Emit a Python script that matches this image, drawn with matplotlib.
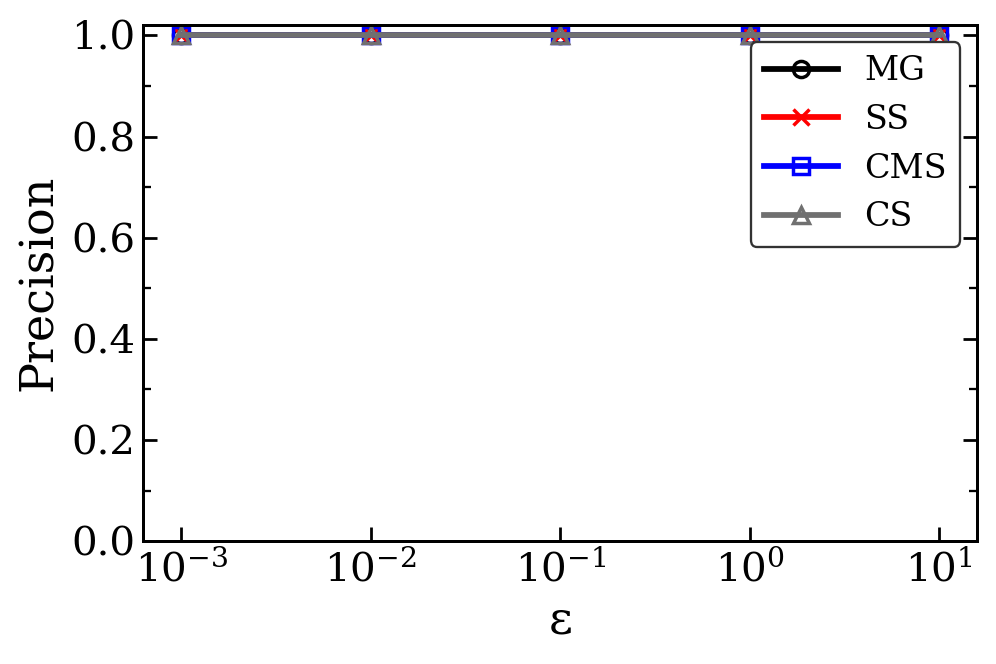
import numpy as np
import matplotlib.pyplot as plt
from matplotlib.ticker import MultipleLocator, NullLocator

plt.rcParams['font.family'] = 'DejaVu Serif'
plt.rcParams['mathtext.fontset'] = 'dejavuserif'

eps = [1e-3, 1e-2, 1e-1, 1e0, 1e1]
prec_mg = [1.0, 1.0, 1.0, 1.0, 1.0]
prec_ss = [1.0, 1.0, 1.0, 1.0, 1.0]
prec_cms = [1.0, 1.0, 1.0, 1.0, 1.0]
prec_cs = [1.0, 1.0, 1.0, 1.0, 1.0]

fig, ax = plt.subplots(figsize=(6, 4), dpi=166)
fig.subplots_adjust(left=0.144, right=0.981, top=0.962, bottom=0.185)

ax.plot(eps, prec_mg, color='black', marker='o', mfc='none', lw=2.5, ms=7, mew=1.5, label='MG')
ax.plot(eps, prec_ss, color='red', marker='x', lw=2.5, ms=7, mew=1.5, label='SS')
ax.plot(eps, prec_cms, color='blue', marker='s', mfc='none', lw=2.5, ms=7, mew=1.5, label='CMS')
ax.plot(eps, prec_cs, color='#707070', marker='^', mfc='none', lw=2.5, ms=7, mew=1.5, label='CS')

ax.set_xscale('log')
ax.xaxis.set_minor_locator(NullLocator())
ax.set_ylim(0, 1.02)
ax.yaxis.set_major_locator(MultipleLocator(0.2))
ax.yaxis.set_minor_locator(MultipleLocator(0.1))
ax.tick_params(axis='both', which='both', direction='in', labelsize=17.5)
ax.tick_params(axis='y', which='both', right=True)
ax.tick_params(which='major', length=6, width=1.2)
ax.tick_params(which='minor', length=3.5, width=1.0)
for s in ax.spines.values():
    s.set_linewidth(1.3)

ax.set_xlabel('ε', fontsize=20)
ax.set_ylabel('Precision', fontsize=20)

leg = ax.legend(loc='upper right', fontsize=14.5, framealpha=1.0, edgecolor='#333333',
                fancybox=True, handlelength=2.2)
leg.get_frame().set_linewidth(1.0)

fig.savefig('out.png', dpi=166)
